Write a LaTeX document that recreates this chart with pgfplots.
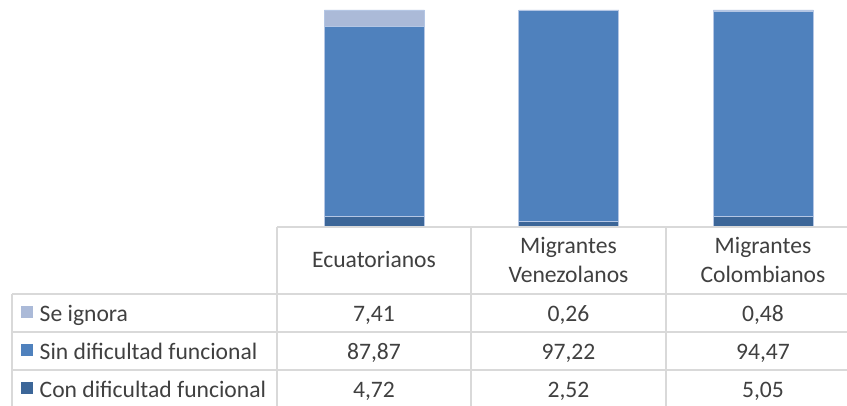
\documentclass[border=0pt]{standalone}
\usepackage{pgfplots}
\pgfplotsset{compat=1.18}
\usepackage{fontspec}
\setmainfont{Carlito}
\definecolor{cIgn}{HTML}{ABBAD8}
\definecolor{cSin}{HTML}{4F81BD}
\definecolor{cCon}{HTML}{3C6698}
\definecolor{edge}{HTML}{B4C6E4}
\definecolor{gridc}{HTML}{D9D9D9}
\definecolor{txt}{HTML}{404040}
\begin{document}
\begin{tikzpicture}[x=1bp,y=1bp]
\path[use as bounding box] (0,0) rectangle (847,405);
\begin{axis}[
  at={(277bp,178bp)}, anchor=south west,
  scale only axis, width=570bp, height=217bp,
  xmin=-0.5, xmax=2.4306, ymin=0, ymax=100,
  hide axis, clip=false,
  ybar stacked, bar width=100bp,
]
\addplot[fill=cCon, draw=edge, line width=0.6bp] coordinates {(0,4.72) (1,2.52) (2,5.05)};
\addplot[fill=cSin, draw=edge, line width=0.6bp] coordinates {(0,87.87) (1,97.22) (2,94.47)};
\addplot[fill=cIgn, draw=edge, line width=0.6bp] coordinates {(0,7.41) (1,0.26) (2,0.48)};
\end{axis}
% table grid (image y measured from top: Y = 405 - y)
\begin{scope}[draw=gridc, line width=1.5bp]
\draw (277,178) -- (847,178);
\draw (12,111) -- (847,111);
\draw (12,73) -- (847,73);
\draw (12,35) -- (847,35);
\draw (12,111) -- (12,-5);
\draw (277,178) -- (277,-5);
\draw (471,178) -- (471,-5);
\draw (666,178) -- (666,-5);
\end{scope}
\begin{scope}[every node/.style={text=txt, font=\fontsize{23.6bp}{28bp}\selectfont, inner sep=0pt, anchor=base}]
\node at (374,137.5) {Ecuatorianos};
\node at (568.5,152) {Migrantes};
\node at (568.5,123) {Venezolanos};
\node at (763,152) {Migrantes};
\node at (763,123) {Colombianos};
\node at (374,84) {7,41};
\node at (568.5,84) {0,26};
\node at (763,84) {0,48};
\node at (374,46) {87,87};
\node at (568.5,46) {97,22};
\node at (763,46) {94,47};
\node at (374,8) {4,72};
\node at (568.5,8) {2,52};
\node at (763,8) {5,05};
\node[anchor=base west] at (39.5,84) {Se ignora};
\node[anchor=base west] at (39.5,46) {Sin dificultad funcional};
\node[anchor=base west] at (39.5,8) {Con dificultad funcional};
\end{scope}
\fill[cIgn] (20.7,86.7) rectangle ++(12.6,12.6);
\fill[cSin] (20.7,48.7) rectangle ++(12.6,12.6);
\fill[cCon] (20.7,10.7) rectangle ++(12.6,12.6);
\end{tikzpicture}
\end{document}
